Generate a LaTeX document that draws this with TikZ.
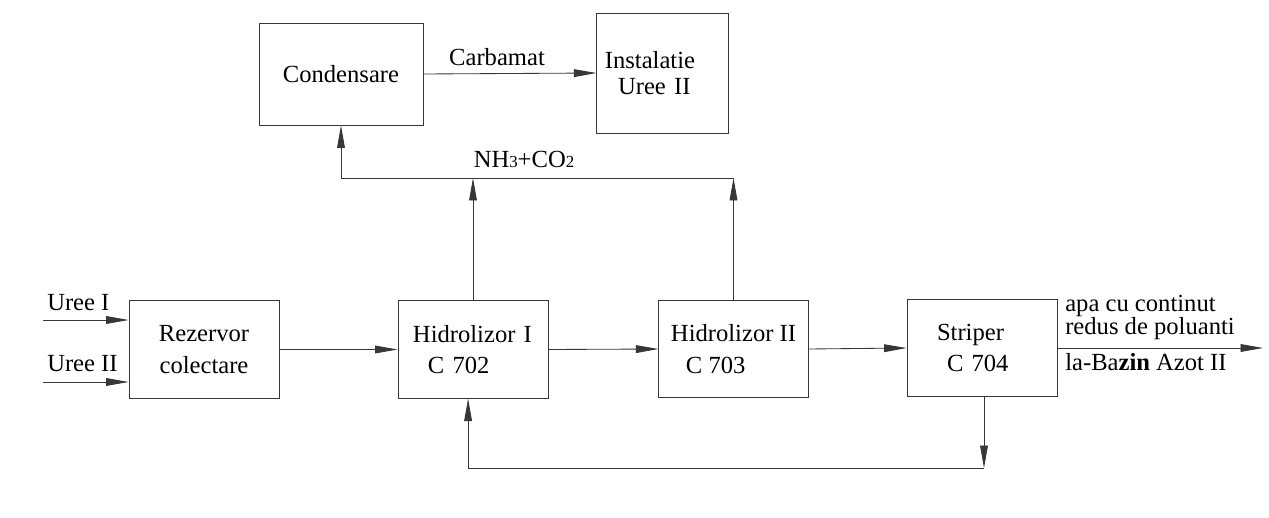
\documentclass[tikz,border=0pt]{standalone}
\usepackage{fontspec}
\setmainfont{Liberation Serif}
\usetikzlibrary{arrows.meta,positioning}
\definecolor{inkgray}{RGB}{55,55,55}

\begin{document}
\begin{tikzpicture}[x=0.025cm, y=-0.025cm,
    font=\fontsize{17.5}{22.5}\selectfont,
    flow/.style={-{Triangle[length=16pt,width=5.5pt]}, inkgray, line width=0.6pt},
    unit/.style={draw=inkgray, line width=0.6pt, minimum width=3.75cm, minimum height=2.43cm},
    tag/.style={anchor=base west, inner sep=0pt}]
    \useasboundingbox (0,0) rectangle (1269,518);
    \node[unit, minimum width=4.1cm, minimum height=2.55cm] (cond) at (341,74) {Condensare};
    \node[unit, minimum width=3.28cm, minimum height=3.0cm, align=left, text width=2.88cm,
          font=\fontsize{17.5}{19}\selectfont] (inst) at (662.5,73) {Instalatie\\\hspace*{0.33cm}Uree II};
    \node[unit, align=center] (rez) at (204,349.5) {Rezervor\\colectare};
    \node[unit, align=left, text width=3.0cm] (hidA) at (473,349.5) {Hidrolizor I\\\hspace*{0.375cm}C 702};
    \node[unit, align=left, minimum width=3.73cm] (hidB) at (733.5,349) {Hidrolizor II\\\hspace*{0.375cm}C 703};
    \node[unit, align=left, text width=2.25cm] (strip) at (982,348) {Striper\\\hspace*{0.25cm}C 704};

    \node[tag] (ureeA) at (47,310) {Uree I};
    \node[tag] (ureeB) at (47,371) {Uree II};
    \node[anchor=base, inner sep=0pt] (carb) at (497,66) {Carbamat};
    \node[anchor=base, inner sep=0pt] (gas) at (524,168) {NH{\fontsize{12}{12}\selectfont 3}+CO{\fontsize{12}{12}\selectfont 2}};
    \node[tag] (apaA) at (1065,311) {apa cu continut};
    \node[tag] (apaB) at (1065,334) {redus de poluanti};
    \node[tag] (bazin) at (1065,370) {la-Ba\textbf{zin} Azot II};

    \coordinate (inA) at (43,320);
    \coordinate (inB) at (43,382);
    \coordinate (sink) at (1263,348);
    \coordinate (gasR) at (733.5,178);
    \coordinate (back) at (984,468);
    \draw[flow] (inA) -- (inA -| rez.west);
    \draw[flow] (inB) -- (inB -| rez.west);
    \draw[flow] (rez.east) -- (hidA.west);
    \draw[flow] (hidA.east) -- (hidB.west);
    \draw[flow] (hidB.east) -- (strip.west);
    \draw[flow] (strip.east) -- (sink);
    \draw[flow] (cond.east) -- (inst.west);
    \draw[flow] (hidB.north) -- (gasR);
    \draw[flow] (hidA.north) -- (hidA.north |- gasR);
    \draw[flow] (gasR) -| (cond.south);
    \draw[flow] (back |- strip.south) -- (back);
    \draw[flow] (back) -| ([xshift=-3.5pt]hidA.south);
\end{tikzpicture}
\end{document}
